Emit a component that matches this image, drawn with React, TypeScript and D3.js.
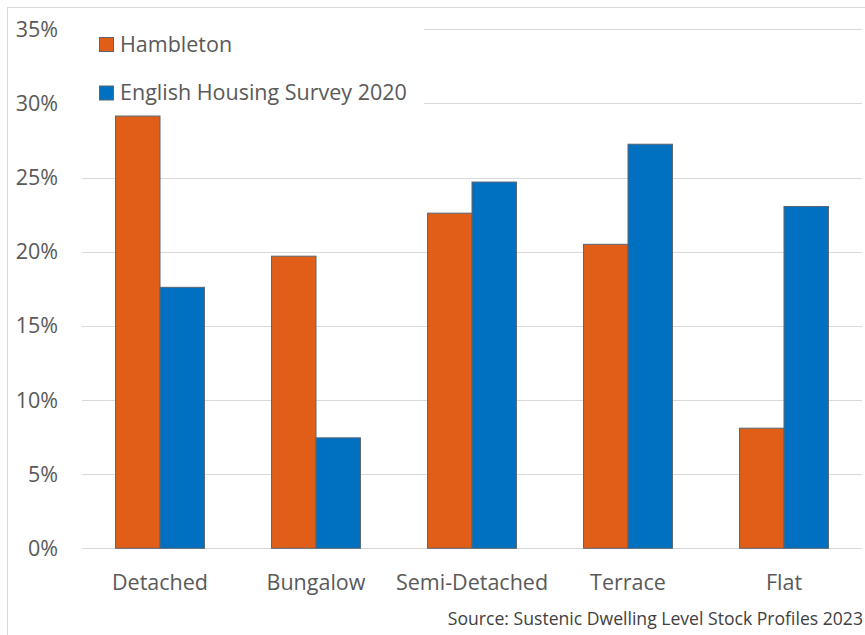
import React from "react";
import * as d3 from "d3";

const categories = ["Detached", "Bungalow", "Semi-Detached", "Terrace", "Flat"];
const seriesNames = ["Hambleton", "English Housing Survey 2020"];
const hambleton = [29.15, 19.7, 22.6, 20.5, 8.1];
const ehs2020 = [17.6, 7.45, 24.7, 27.25, 23.05];
const yTicks = [0, 5, 10, 15, 20, 25, 30, 35];
const colors = ["#E05E17", "#0070C0"];
const sourceText = "Source: Sustenic Dwelling Level Stock Profiles 2023";

const W = 865;
const H = 635;
const FONT = "'Open Sans', 'Noto Sans', sans-serif";

export default function App() {
  const left = 82;
  const right = 862;
  const top = 29.3;
  const bottom = 548.3;

  const x0 = d3
    .scaleBand<string>()
    .domain(categories)
    .range([left, right])
    .paddingInner(0.43)
    .paddingOuter(0.215);
  const x1 = d3
    .scaleBand<string>()
    .domain(seriesNames)
    .range([0, x0.bandwidth()]);
  const y = d3.scaleLinear().domain([0, 35]).range([bottom, top]);

  const series = [hambleton, ehs2020];

  return (
    <svg
      width={W}
      height={H}
      style={{ position: "absolute", left: 0, top: 0, background: "#fff" }}
      fontFamily={FONT}
    >
      <rect x={7.5} y={7.5} width={W} height={H} fill="#fff" stroke="#d9d9d9" strokeWidth={1} />
      {/* gridlines */}
      {yTicks.map((t) => (
        <line
          key={"g" + t}
          x1={left}
          x2={right}
          y1={Math.round(y(t)) + 0.5}
          y2={Math.round(y(t)) + 0.5}
          stroke="#d9d9d9"
          strokeWidth={1}
        />
      ))}
      {/* y labels */}
      {yTicks.map((t) => (
        <text
          key={"yl" + t}
          x={58}
          y={y(t)}
          dy="0.35em"
          textAnchor="end"
          fontSize={21.5}
          fill="#595959"
        >
          {t + "%"}
        </text>
      ))}
      {/* bars */}
      {categories.map((c, i) => (
        <g key={c} transform={`translate(${x0(c)},0)`}>
          {series.map((s, j) => (
            <rect
              key={seriesNames[j]}
              x={x1(seriesNames[j])}
              y={y(s[i])}
              width={x1.bandwidth()}
              height={y(0) - y(s[i])}
              fill={colors[j]}
              stroke="#5a6675"
              strokeWidth={1}
            />
          ))}
        </g>
      ))}
      {/* category labels */}
      {categories.map((c) => (
        <text
          key={"xl" + c}
          x={(x0(c) as number) + x0.bandwidth() / 2}
          y={590}
          textAnchor="middle"
          fontSize={21.5}
          fill="#595959"
        >
          {c}
        </text>
      ))}
      {/* legend */}
      <rect x={82} y={18} width={342} height={97} fill="#fff" />
      {seriesNames.map((n, j) => (
        <g key={"lg" + n} transform={`translate(0,${j * 48.5})`}>
          <rect x={99.5} y={37.5} width={14} height={14} fill={colors[j]} stroke="#5a6675" strokeWidth={1} />
          <text x={120} y={51.5} fontSize={21.5} fill="#595959">
            {n}
          </text>
        </g>
      ))}
      {/* source */}
      <text x={863} y={625} textAnchor="end" fontSize={17.6} fill="#404040">
        {sourceText}
      </text>
    </svg>
  );
}
